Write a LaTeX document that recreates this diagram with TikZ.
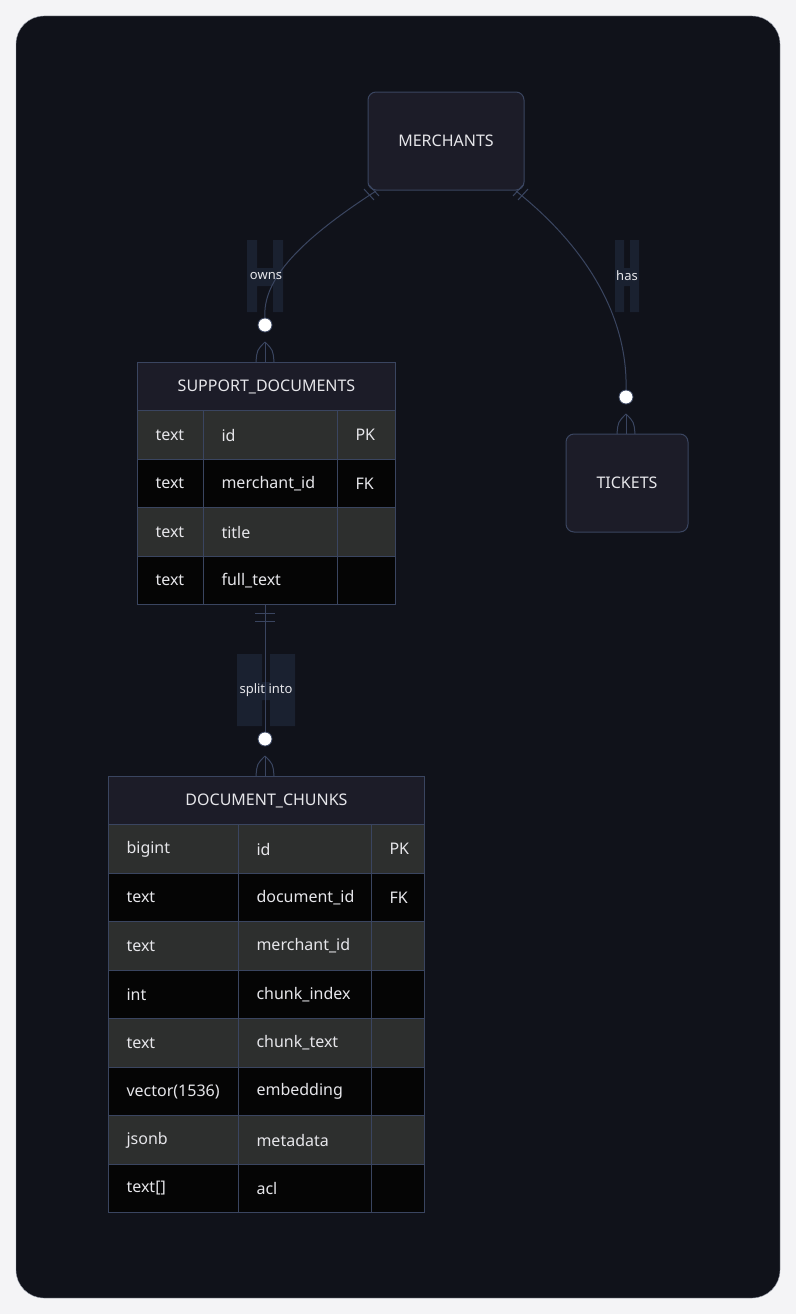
\documentclass[tikz,border=0pt]{standalone}
\usepackage{fontspec}
\setmainfont{Noto Sans}
\usetikzlibrary{positioning}
\definecolor{pagebg}{HTML}{F4F4F6}
\definecolor{canvas}{HTML}{10121A}
\definecolor{entfill}{HTML}{1C1C28}
\definecolor{edgeline}{HTML}{3A4560}
\definecolor{rowodd}{HTML}{2D2F2E}
\definecolor{roweven}{HTML}{050505}
\definecolor{lblbg}{HTML}{1A2130}
\definecolor{txt}{HTML}{E6E6EA}

% table macro: #1 name, #2 left x, #3 top y, #4/#5/#6 column widths, #7 title, #8 rows
\newcommand{\ertable}[8]{%
  \node[header,minimum width={#4+#5+#6},minimum height=48.5pt,anchor=north west]
      (#1) at (#2,#3) {#7};
  \foreach [count=\i] \ty/\nm/\ky in {#8} {
    \pgfmathsetmacro{\yy}{#3+48.5*\i}
    \pgfmathtruncatemacro{\odd}{mod(\i,2)}
    \ifnum\odd=1 \def\rowcol{rowodd}\else\def\rowcol{roweven}\fi
    \draw[edgeline,line width=1pt,fill=\rowcol] (#2,\yy) rectangle ++({#4+#5+#6},48.5);
    \draw[edgeline,line width=1pt] ({#2+#4},\yy) -- ++(0,48.5) ({#2+#4+#5},\yy) -- ++(0,48.5);
    \node[celltext] (#1-t\i) at ({#2+15},{\yy+24.5}) {\ty};
    \node[celltext] (#1-n\i) at ({#2+#4+15},{\yy+24.5}) {\nm};
    \node[celltext] (#1-k\i) at ({#2+#4+#5+15},{\yy+24.5}) {\ky};
  }
}

\begin{document}
\begin{tikzpicture}[x=1pt,y=-1pt,
    entity/.style={draw=edgeline,fill=entfill,rounded corners=8pt,line width=1pt,
        text=txt,font=\fontsize{16}{18}\selectfont,inner sep=0pt},
    header/.style={draw=edgeline,fill=entfill,line width=1pt,text=txt,
        font=\fontsize{16}{18}\selectfont,inner sep=0pt},
    celltext/.style={text=txt,anchor=west,font=\fontsize{16}{18}\selectfont},
    rel/.style={draw=edgeline,line width=1pt},
    lbl/.style={text=txt,font=\fontsize{13}{15}\selectfont,inner sep=0pt},
    lblbar/.style={fill=lblbg}]

% page and canvas
\fill[pagebg] (0,0) rectangle (796,1314);
\useasboundingbox (0,0) rectangle (796,1314);
\fill[canvas,draw=edgeline!50,rounded corners=28pt] (16,16) rectangle (780,1298);

% entities
\node[entity,minimum width=156pt,minimum height=98pt] (merchants) at (446,141) {MERCHANTS};
\node[entity,minimum width=122pt,minimum height=98pt] (tickets) at (627,483) {TICKETS};

\ertable{supdocs}{137}{362}{66}{134}{58}{SUPPORT\_DOCUMENTS}%
  {text/id/PK, text/merchant\_id/FK, text/title/{}, text/full\_text/{}}
\ertable{chunks}{108}{776}{130}{133}{53}{DOCUMENT\_CHUNKS}%
  {bigint/id/PK, text/document\_id/FK, text/merchant\_id/{}, int/chunk\_index/{},
   text/chunk\_text/{}, vector(1536)/embedding/{}, jsonb/metadata/{}, text[]/acl/{}}

% connection points
\coordinate (ownsS) at (376,191);
\coordinate (hasS) at (516,191);
\coordinate (splitS) at (265,604);

% label backgrounds
\fill[lblbar] (247,240) rectangle (257,312) (273,240) rectangle (283,312) (247,268) rectangle (283,286);
\fill[lblbar] (615,240) rectangle (624,312) (630,240) rectangle (639,312) (615,268) rectangle (639,286);
\fill[lblbar] (237,654) rectangle (262,726) (270,654) rectangle (295,726) (237,682) rectangle (295,700);

% relationships
\draw[rel] (ownsS) .. controls (300,240) and (262,280) .. (265,318);
\draw[rel] (hasS) .. controls (590,250) and (628,320) .. (626,390);
\draw[rel] (splitS) -- (265,733);
% one marks
\draw[rel] (364,189) -- (374,200) (369,185) -- (379,196);
\draw[rel] (513,196) -- (523,185) (518,200) -- (528,189);
\draw[rel] (255,613) -- (275,613) (255,621) -- (275,621);
% crow's feet and circles
\foreach \ex/\ey in {265/362, 626/434, 265/776} {
  \draw[rel] (\ex,\ey-20) -- (\ex,\ey);
  \draw[rel] (\ex,\ey-20) .. controls (\ex-8,\ey-12) .. (\ex-9,\ey);
  \draw[rel] (\ex,\ey-20) .. controls (\ex+8,\ey-12) .. (\ex+9,\ey);
  \draw[edgeline,fill=white,line width=0.8pt] (\ex,\ey-37) circle (7);
}

% labels
\node[lbl] (owns) at (266,276) {owns};
\node[lbl] (has) at (627,276) {has};
\node[lbl] (splitinto) at (266,690) {split into};
\end{tikzpicture}
\end{document}
